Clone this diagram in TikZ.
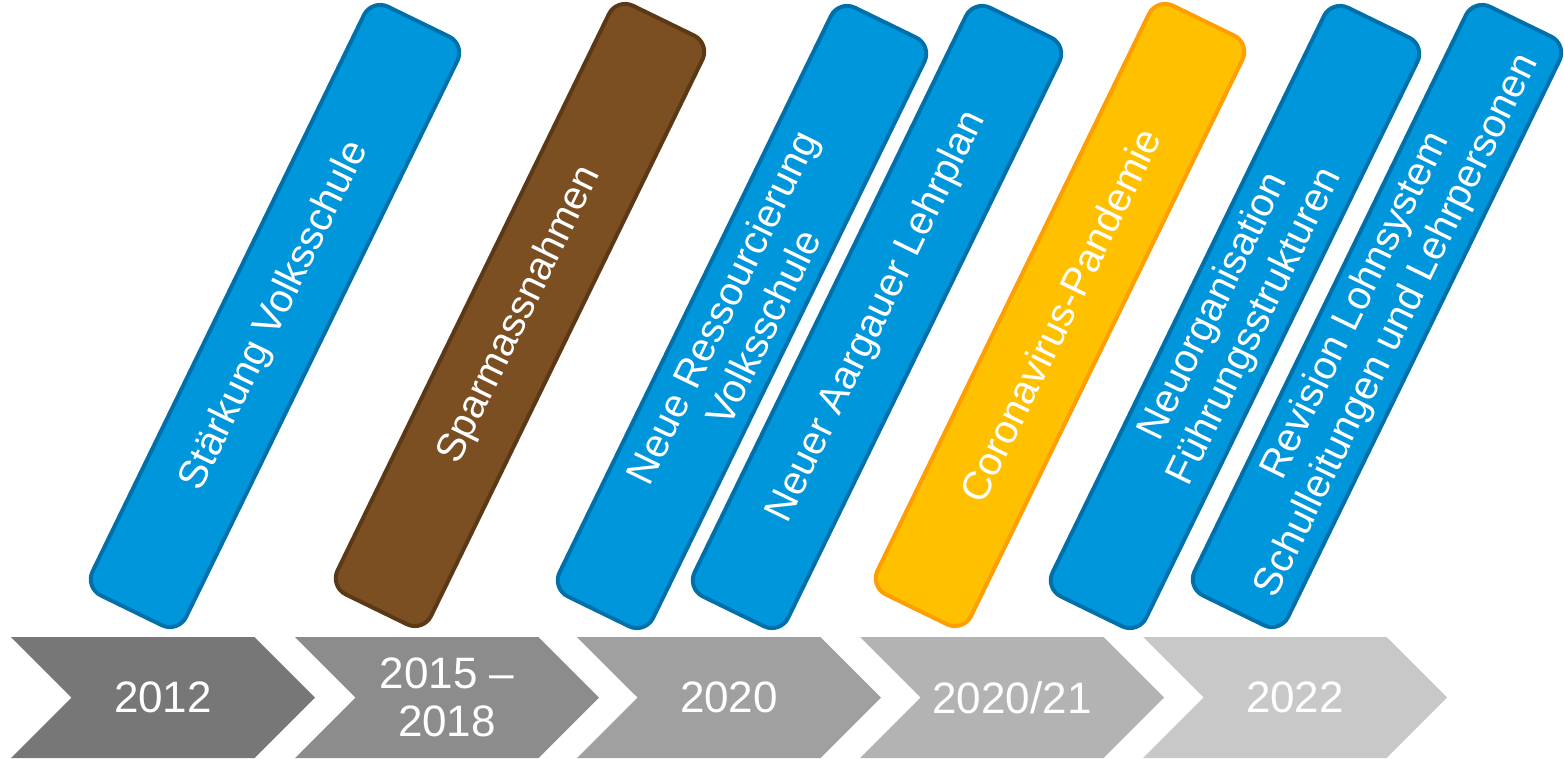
\documentclass[tikz,border=0pt]{standalone}
\usepackage{fontspec}
\setmainfont{Liberation Sans}
\usetikzlibrary{shapes.symbols}
\definecolor{blaufill}{HTML}{0096DC}
\definecolor{blaurand}{HTML}{0070AA}
\definecolor{braunfill}{HTML}{7B4F21}
\definecolor{braunrand}{HTML}{5C3916}
\definecolor{gelbfill}{HTML}{FFC000}
\definecolor{gelbrand}{HTML}{FF9E00}
\definecolor{grauA}{HTML}{777777}
\definecolor{grauB}{HTML}{8C8C8C}
\definecolor{grauC}{HTML}{A0A0A0}
\definecolor{grauD}{HTML}{B3B3B3}
\definecolor{grauE}{HTML}{C8C8C8}

\begin{document}
\begin{tikzpicture}[x=1pt,y=-1pt,
  box/.style={rectangle,rounded corners=18pt,line width=4pt,rotate=64,
    minimum width=655pt,minimum height=104pt,inner sep=0pt,
    text=white,align=center,font=\fontsize{40}{46}\selectfont},
  blaubox/.style={box,fill=blaufill,draw=blaurand},
  braunbox/.style={box,fill=braunfill,draw=braunrand},
  gelbbox/.style={box,fill=gelbfill,draw=gelbrand},
  jahr/.style={signal,signal from=west,signal to=east,signal pointer angle=90,
    minimum width=304pt,minimum height=121pt,inner sep=0pt,
    text=white,align=center,font=\fontsize{44}{48}\selectfont}]
\useasboundingbox (0,0) rectangle (1564,758);
% years
\node (j2012) at (163,697.5) [jahr,fill=grauA] {2012};
\node (j2015) at (447,697.5) [jahr,fill=grauB] {2015 --\\2018};
\node (j2020) at (729,697.5) [jahr,fill=grauC] {2020};
\node (j2021) at (1012,697.5) [jahr,fill=grauD] {2020/21};
\node (j2022) at (1295,697.5) [jahr,fill=grauE] {2022};
% events
\node (stark) at (275,316) [blaubox] {Stärkung Volksschule};
\node (spar) at (520,315) [braunbox] {Sparmassnahmen};
\node (ress) at (742,317) [blaubox] {Neue Ressourcierung\\Volksschule};
\node (lehrplan) at (877,317) [blaubox] {Neuer Aargauer Lehrplan};
\node (corona) at (1060,315) [gelbbox] {Coronavirus-Pandemie};
\node (fuehrung) at (1235,317) [blaubox] {Neuorganisation\\Führungsstrukturen};
\node (lohn) at (1377,316) [blaubox] {Revision Lohnsystem\\Schulleitungen und Lehrpersonen};
\end{tikzpicture}
\end{document}
